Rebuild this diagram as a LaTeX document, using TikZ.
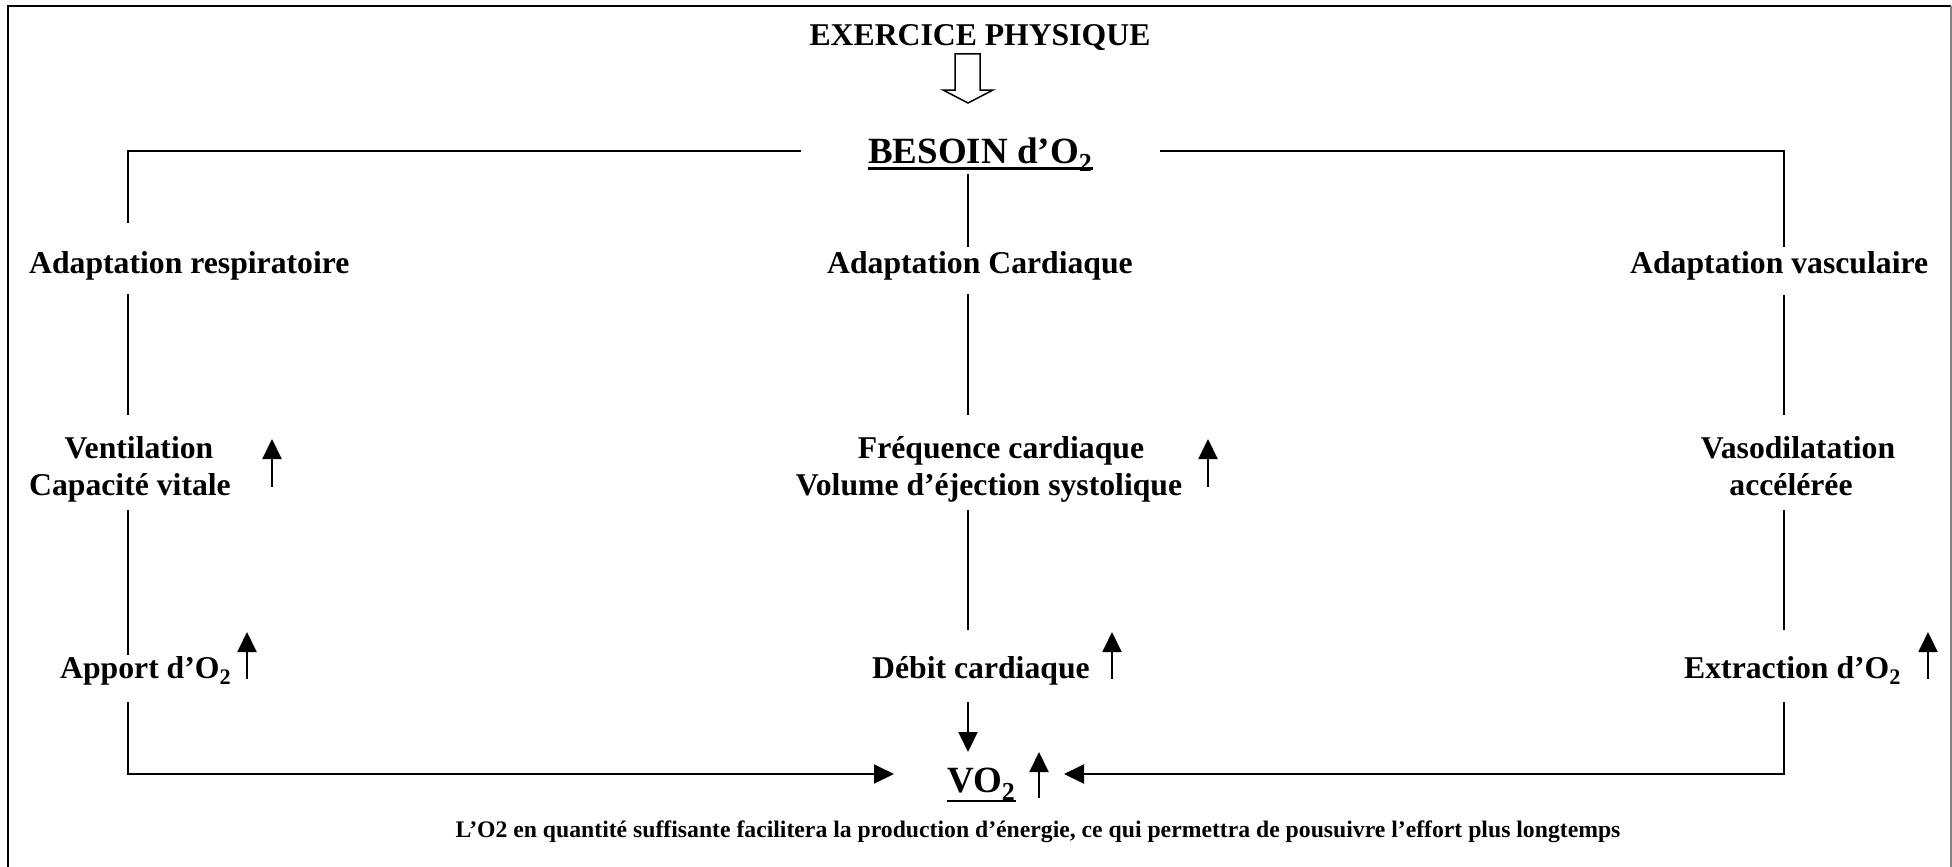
\documentclass[tikz,border=0pt]{standalone}
\usepackage{fontspec}
\setmainfont{Liberation Serif}
\usetikzlibrary{arrows.meta}
\tikzset{
  lbl/.style={inner sep=0pt, font=\bfseries\fontsize{31.7}{36}\selectfont},
  big/.style={inner sep=0pt, font=\bfseries\fontsize{37}{42}\selectfont},
  note/.style={inner sep=0pt, font=\bfseries\fontsize{23.7}{28}\selectfont},
  conn/.style={line width=2pt},
  tip/.style={line width=2pt, -{Triangle[length=20pt,width=19pt]}},
  frame/.style={line width=2pt},
  hollow/.style={line width=1.5pt, line join=miter, fill=white},
}
\begin{document}
\begin{tikzpicture}[x=1pt,y=-1pt]
\useasboundingbox (0,0) rectangle (1952,867);
% frame (open at the bottom)
\coordinate (f1) at (8,867); \coordinate (f2) at (8,6);
\coordinate (f3) at (1951,6); \coordinate (f4) at (1951,867);
\draw[frame] (f1) -- (f2) -- (f3);
\draw[frame, gray] (f3) -- (f4);

% texts
\node[lbl, anchor=base] (ex) at (980,46) {EXERCICE PHYSIQUE};
\node[big, anchor=base west] (besoin) at (868,163) {BESOIN d’O\textsubscript{2}};
\node[lbl, anchor=base west] (adresp) at (29,273) {Adaptation respiratoire};
\node[lbl, anchor=base] (adcard) at (980,273) {Adaptation Cardiaque};
\node[lbl, anchor=base west] (advasc) at (1630,273) {Adaptation vasculaire};
\node[lbl, anchor=base] (vent1) at (139,458) {Ventilation};
\node[lbl, anchor=base] (vent2) at (130,495) {Capacité vitale};
\node[lbl, anchor=base] (freq1) at (1001,458) {Fréquence cardiaque};
\node[lbl, anchor=base] (freq2) at (989,495) {Volume d’éjection systolique};
\node[lbl, anchor=base] (vaso1) at (1798,458) {Vasodilatation};
\node[lbl, anchor=base] (vaso2) at (1791,495) {accélérée};
\node[lbl, anchor=base west] (apport) at (60,678) {Apport d’O\textsubscript{2}};
\node[lbl, anchor=base west] (debit) at (872,678) {Débit cardiaque};
\node[lbl, anchor=base west] (extr) at (1684,678) {Extraction d’O\textsubscript{2}};
\node[big, anchor=base west] (vo) at (947,792) {VO\textsubscript{2}};
\node[note, anchor=base] (note) at (1038,837) {L’O2 en quantité suffisante facilitera la production d’énergie, ce qui permettra de pousuivre l’effort plus longtemps};

% underlines
\draw[line width=2.6pt] ([yshift=-5.5]besoin.base west) -- ([yshift=-5.5]besoin.base east);
\draw[line width=2.6pt] ([yshift=-9]vo.base west) -- ([yshift=-9]vo.base east);

% hollow arrow
\coordinate (ha1) at (955,54); \coordinate (ha2) at (980,54);
\coordinate (ha3) at (980,90); \coordinate (ha4) at (993,90);
\coordinate (ha5) at (968,103); \coordinate (ha6) at (943,90);
\coordinate (ha7) at (955,90);
\draw[hollow] (ha1) -- (ha2) -- (ha3) -- (ha4) -- (ha5) -- (ha6) -- (ha7) -- cycle;

% top horizontal bar
\coordinate (tl) at (128,151); \coordinate (tlm) at (801,151);
\coordinate (tr) at (1784,151); \coordinate (trm) at (1160,151);
\draw[conn] (tlm) -- (tl) -- (128,223);
\draw[conn] (trm) -- (tr) -- (1784,247);
\coordinate (c0) at (968,174); \coordinate (c1) at (968,247);
\draw[conn] (c0) -- (c1);

% left column
\coordinate (l2a) at (128,294); \coordinate (l2b) at (128,415);
\coordinate (l3a) at (128,510); \coordinate (l3b) at (128,655);
\coordinate (l4a) at (128,702); \coordinate (l4b) at (128,774);
\coordinate (l4c) at (894,774);
\draw[conn] (l2a) -- (l2b);
\draw[conn] (l3a) -- (l3b);
\draw[tip] (l4a) -- (l4b) -- (l4c);

% center column
\coordinate (c2a) at (968,294); \coordinate (c2b) at (968,415);
\coordinate (c3a) at (968,510); \coordinate (c3b) at (968,630);
\coordinate (c4a) at (968,702); \coordinate (c4b) at (968,752);
\draw[conn] (c2a) -- (c2b);
\draw[conn] (c3a) -- (c3b);
\draw[tip] (c4a) -- (c4b);

% right column
\coordinate (r2a) at (1784,295); \coordinate (r2b) at (1784,415);
\coordinate (r3a) at (1784,510); \coordinate (r3b) at (1784,630);
\coordinate (r4a) at (1784,702); \coordinate (r4b) at (1784,774);
\coordinate (r4c) at (1064,774);
\draw[conn] (r2a) -- (r2b);
\draw[conn] (r3a) -- (r3b);
\draw[tip] (r4a) -- (r4b) -- (r4c);

% small "increase" arrows
\coordinate (u1a) at (272,487); \coordinate (u1b) at (272,439);
\coordinate (u2a) at (1208,487); \coordinate (u2b) at (1208,439);
\coordinate (u3a) at (247,679); \coordinate (u3b) at (247,632);
\coordinate (u4a) at (1112,679); \coordinate (u4b) at (1112,632);
\coordinate (u5a) at (1928,679); \coordinate (u5b) at (1928,632);
\coordinate (u6a) at (1039,798); \coordinate (u6b) at (1039,752);
\foreach \i in {1,...,6} \draw[tip] (u\i a) -- (u\i b);
\end{tikzpicture}
\end{document}
